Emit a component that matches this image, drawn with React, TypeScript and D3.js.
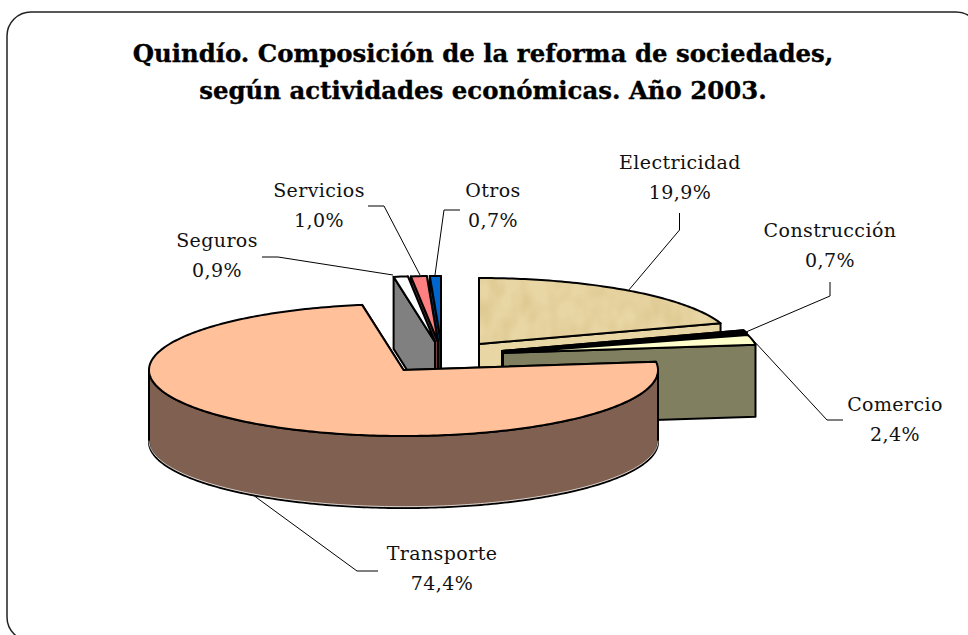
import React from "react";
import * as d3 from "d3";

// ---- data ----
const categories = ["Electricidad", "Construcción", "Comercio", "Transporte", "Seguros", "Servicios", "Otros"];
const shares = [19.9, 0.7, 2.4, 74.4, 0.9, 1.0, 0.7];
const shareLabels = ["19,9%", "0,7%", "2,4%", "74,4%", "0,9%", "1,0%", "0,7%"];
const titleLines = ["Quindío. Composición de la reforma de sociedades,", "según actividades económicas. Año 2003."];

// ---- presentation ----
const RX = 254.5, RY = 66, DEPTH = 72;
const FONT = "'DejaVu Serif', serif";
const topFill = ["url(#wood)", "#000000", "#ffffcc", "#ffc09a", "#ffffff", "#ff8080", "#0066cc"];
const cutFill = ["#e8d6a4", "#000000", "#808060", "#806050", "#808080", "#804040", "#003366"];
const wallFill = ["#e8d6a4", "#000000", "#808060", "#806050", "#808080", "#804040", "#003366"];
const apex: [number, number][] = [[479, 344], [502, 351], [503, 353], [403.5, 370], [435, 342], [438, 342], [441, 342]];
const paintOrder = [6, 5, 4, 0, 1, 2, 3];
const labelAt: [number, number][] = [[680, 169], [830, 237], [895, 411], [442, 560], [217, 247], [319, 197], [493, 197]];
const LINE_GAP = 30;
const leaders: [number, number][][] = [
  [[628, 291], [679.5, 230], [679.5, 213]],
  [[746, 332], [830, 296], [830, 282]],
  [[753, 340], [827, 420], [843, 420]],
  [[253, 495], [357, 571], [378, 571]],
  [[393, 275], [278, 257], [262, 257]],
  [[420, 275], [384, 206], [368, 206]],
  [[435, 275], [444, 210], [460, 210]],
];

const pieGen = d3.pie<number>().sort(null).startAngle(0).endAngle(2 * Math.PI);
const arcs = pieGen(shares);
const line = d3.line<[number, number]>();

// d3.pie angles run clockwise from 12 o'clock
const point = (c: [number, number], a: number, dy = 0): [number, number] => [
  c[0] + RX * Math.sin(a),
  c[1] - RY * Math.cos(a) + dy,
];
const sample = (a0: number, a1: number) => {
  const n = Math.max(2, Math.ceil(Math.abs(a1 - a0) * 60));
  return d3.range(n + 1).map((i) => a0 + ((a1 - a0) * i) / n);
};

function Slice({ i }: { i: number }) {
  const c = apex[i];
  const { startAngle: a0, endAngle: a1 } = arcs[i];
  const rim = sample(a0, a1).map((a) => point(c, a));
  const top = line([c, ...rim])! + "Z";
  const quad = (a: number) =>
    line([c, point(c, a), point(c, a, DEPTH), [c[0], c[1] + DEPTH]])! + "Z";
  // the cut face turned towards the viewer is painted last
  const onLeft = (a0 + a1) / 2 > Math.PI;
  const cuts = onLeft ? [a1, a0] : [a0, a1];
  // the outer wall only exists on the front half of the ellipse
  const f0 = Math.max(a0, Math.PI / 2);
  const f1 = Math.min(a1, (3 * Math.PI) / 2);
  const hasWall = f1 > f0;
  const frontTop = hasWall ? sample(f0, f1).map((a) => point(c, a)) : [];
  const frontBot = hasWall ? sample(f0, f1).map((a) => point(c, a, DEPTH)) : [];
  const wall = hasWall ? line([...frontTop, ...[...frontBot].reverse()])! + "Z" : "";
  const sw = { stroke: "#000", strokeWidth: 2, strokeLinejoin: "round" as const };
  return (
    <g>
      {cuts.map((a, k) => (
        <path key={k} d={quad(a)} fill={cutFill[i]} {...sw} />
      ))}
      {hasWall && <path d={wall} fill={wallFill[i]} {...sw} />}
      {hasWall && (
        <path
          d={line(frontBot.map(([x, y]) => [x, y - 1.3] as [number, number]))!}
          fill="none"
          stroke="#fff"
          strokeOpacity={0.75}
          strokeWidth={1}
        />
      )}
      {topFill[i].startsWith("url") ? (
        <>
          <path d={top} fill="#e8d6a4" filter="url(#woodFx)" />
          <path d={top} fill="none" {...sw} />
        </>
      ) : (
        <path d={top} fill={topFill[i]} {...sw} />
      )}
    </g>
  );
}

export default function App() {
  return (
    <svg
      width={968}
      height={635}
      viewBox="0 0 968 635"
      style={{ position: "fixed", left: 0, top: 0, display: "block", background: "#fff" }}
    >
      <defs>
        <filter id="woodFx" x="-5%" y="-5%" width="110%" height="110%" colorInterpolationFilters="sRGB">
          <feTurbulence type="fractalNoise" baseFrequency="0.06 0.04" numOctaves={2} seed={4} result="n" />
          <feColorMatrix
            in="n"
            type="matrix"
            values="0 0 0 0 0.80  0 0 0 0 0.68  0 0 0 0 0.42  0.7 0 0 0 -0.25"
            result="tint"
          />
          <feComposite in="tint" in2="SourceGraphic" operator="in" result="clip" />
          <feMerge>
            <feMergeNode in="SourceGraphic" />
            <feMergeNode in="clip" />
          </feMerge>
        </filter>
      </defs>
      <rect x={7} y={12} width={973} height={629} rx={24} ry={24} fill="#fff" stroke="#222" strokeWidth={1.5} />
      <g fontFamily={FONT} fontWeight={700} fontSize={24.4} textAnchor="middle" fill="#000" stroke="#000" strokeWidth={0.35}>
        {titleLines.map((t, i) => (
          <text key={t} x={483} y={[62, 99][i]}>
            {t}
          </text>
        ))}
      </g>
      {paintOrder.map((i) => (
        <Slice key={categories[i]} i={i} />
      ))}
      {leaders.map((pts, i) => (
        <path key={i} d={line(pts)!} fill="none" stroke="#000" strokeWidth={1} />
      ))}
      <g fontFamily={FONT} fontSize={19} letterSpacing={0.4} textAnchor="middle" fill="#111">
        {categories.map((c, i) => (
          <g key={c}>
            <text x={labelAt[i][0]} y={labelAt[i][1]}>{c}</text>
            <text x={labelAt[i][0]} y={labelAt[i][1] + LINE_GAP}>{shareLabels[i]}</text>
          </g>
        ))}
      </g>
    </svg>
  );
}
